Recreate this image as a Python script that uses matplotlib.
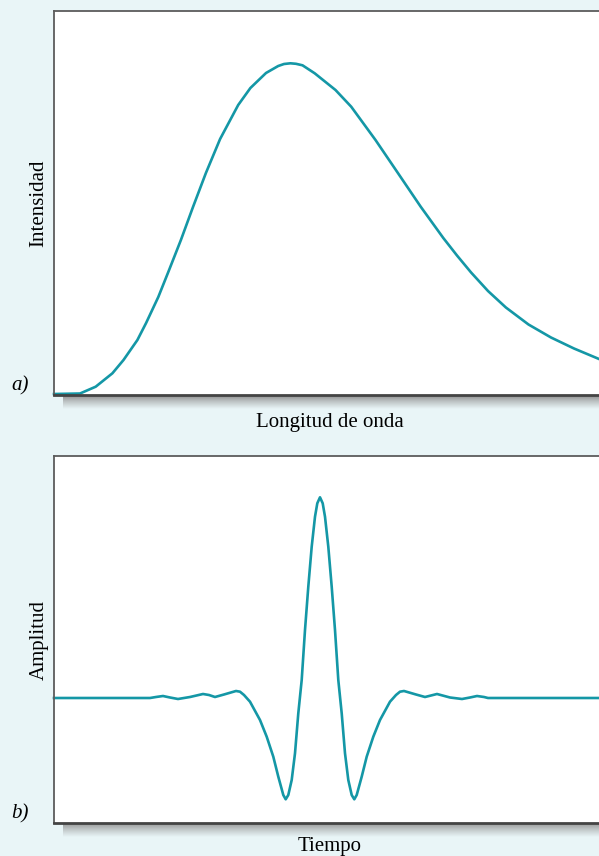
import numpy as np
import matplotlib.pyplot as plt

# a) espectro: longitud de onda vs intensidad (unidades arbitrarias)
wavelength = [0, 26, 41.7, 58.4, 69.5, 83.4, 92.1, 104.3, 114.7, 126.9,
              139, 151.9, 166.1, 184.2, 196.4, 212, 224.2, 230, 236.4, 242,
              248.5, 260.7, 281.5, 297.2, 321.5, 344.1, 366.7, 389.3, 403,
              417.1, 434, 451.9, 474.5, 497, 520, 545]
intensity = [1, 1.5, 8.3, 21.7, 35, 55, 72, 98, 124, 155,
             188, 222, 256, 290, 307, 322, 329, 331, 331.7, 331.2,
             329.7, 321.7, 305, 288.3, 255, 221.7, 188.3, 157, 139.5,
             122.5, 104, 87.5, 70.5, 57.5, 46.5, 36]

# b) pulso: tiempo vs amplitud
time = [0, 96, 102, 109, 116, 124, 136, 149, 155, 161, 170, 182, 186, 190,
        196, 206, 212.7, 219.3, 224.3, 229.3, 231.7, 234.3, 237.7, 241,
        244.3, 247.7, 251, 254.3, 257.7, 261, 263.3, 266, 268.7, 271,
        274.3, 277.7, 281, 284.3, 287.7, 291, 294.3, 297.7, 300.3, 302.7,
        307.7, 312.7, 319.3, 326, 336, 342, 346, 350, 362, 371, 383, 396,
        408, 416, 423, 430, 434, 545]
amplitude = [0, 0, 1, 2, 0.5, -1, 1, 4, 3, 1, 3.5, 7, 6.3, 3,
             -3.7, -22, -38.7, -58.7, -78.7, -97, -101.3, -97, -82, -55.3,
             -15.3, 18, 68, 111.3, 151.3, 181.3, 194.7, 200.7, 194.7, 181.3,
             151.3, 111.3, 68, 18, -15.3, -55.3, -82, -97, -101.3, -97,
             -78.7, -58.7, -38.7, -22, -3.7, 3, 6.3, 7, 3.5, 1, 4, 0.5,
             -1, 0.5, 2, 1, 0, 0]

W, H = 599, 856
BG = "#e9f5f7"
LINE = "#1497a6"

plt.rcParams["font.family"] = ["Liberation Serif", "DejaVu Serif"]

fig = plt.figure(figsize=(W / 100, H / 100), dpi=100, facecolor=BG)


def px_axes(left, top, right, bottom):
    return [left / W, 1 - bottom / H, (right - left) / W, (bottom - top) / H]


def shadow(left, top, right, bottom):
    sax = fig.add_axes(px_axes(left, top, right, bottom), zorder=0)
    n = 50
    grad = np.zeros((n, 2, 4))
    bg = np.array([233, 245, 247]) / 255
    dark = np.array([145, 145, 145]) / 255
    for i, v in enumerate(np.linspace(0, 1, n)):
        grad[i, :, :3] = dark + (bg - dark) * v ** 0.8
        grad[i, :, 3] = 1
    sax.imshow(grad, aspect="auto", extent=(0, 1, 0, 1), interpolation="bilinear")
    sax.axis("off")


def style(ax):
    ax.set_facecolor("white")
    ax.set_xticks([])
    ax.set_yticks([])
    ax.spines["right"].set_visible(False)
    for s in ("left", "top"):
        ax.spines[s].set_color("#5c5c5c")
        ax.spines[s].set_linewidth(1.3)
    ax.spines["bottom"].set_color("#444444")
    ax.spines["bottom"].set_linewidth(2.0)


# panel a
shadow(63, 396, 605, 409)
ax1 = fig.add_axes(px_axes(54, 11, 605, 395), zorder=2)
ax1.plot(wavelength, intensity, color=LINE, linewidth=1.9, clip_on=False,
         solid_joinstyle="round")
ax1.set_xlim(0, 551)
ax1.set_ylim(0, 384)
style(ax1)
ax1.set_ylabel("Intensidad", fontsize=15, labelpad=4)
ax1.set_xlabel("Longitud de onda", fontsize=15, labelpad=13)
fig.text(20 / W, 1 - 386 / H, "a)", fontsize=15, style="italic",
         ha="center", va="center")

# panel b
shadow(63, 824, 605, 837)
ax2 = fig.add_axes(px_axes(54, 456, 605, 823), zorder=2)
ax2.plot(time, amplitude, color=LINE, linewidth=1.9, clip_on=False,
         solid_joinstyle="round")
ax2.set_xlim(0, 551)
ax2.set_ylim(-125, 242)
style(ax2)
ax2.set_ylabel("Amplitud", fontsize=15, labelpad=4)
ax2.set_xlabel("Tiempo", fontsize=15, labelpad=10)
fig.text(20 / W, 1 - 814 / H, "b)", fontsize=15, style="italic",
         ha="center", va="center")

fig.savefig("out.png", dpi=100, facecolor=BG)
